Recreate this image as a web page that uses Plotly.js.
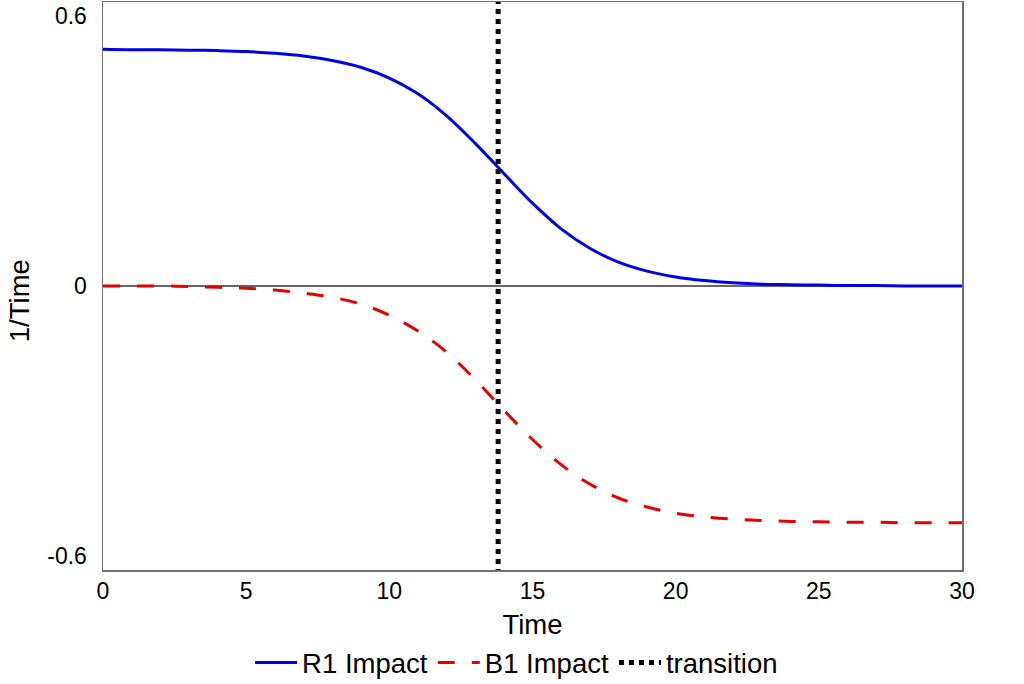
<!DOCTYPE html>
<html>
<head>
<meta charset="utf-8">
<script src="https://cdn.plot.ly/plotly-3.0.1.min.js"></script>
<style>
  html, body { margin: 0; padding: 0; background: #fff; }
  #chart { width: 1024px; height: 684px; }
</style>
</head>
<body>
<div id="chart"></div>
<script>
// Time axis (shared by both series)
const time = [0,1,2,3,4,5,6,7,8,9,10,11,12,13,14,15,16,17,18,19,20,21,22,23,24,25,26,27,28,29,30];

// R1 Impact (1/Time)
const r1Impact = [0.526,0.525,0.525,0.524,0.523,0.521,0.517,0.511,0.501,0.486,0.462,0.427,0.378,0.317,0.250,0.184,0.127,0.084,0.053,0.033,0.020,0.012,0.007,0.004,0.003,0.002,0.001,0.001,0.000,0.000,0.000];

// B1 Impact (1/Time)
const b1Impact = [0.000,0.000,0.000,-0.001,-0.003,-0.005,-0.009,-0.016,-0.025,-0.040,-0.065,-0.100,-0.147,-0.208,-0.276,-0.341,-0.397,-0.440,-0.471,-0.491,-0.505,-0.513,-0.518,-0.521,-0.523,-0.524,-0.525,-0.525,-0.526,-0.526,-0.526];

// Transition marker
const transitionX = [13.8, 13.8];
const transitionY = [-0.64, 0.64];

// Tick labels
const xTicks = [0,5,10,15,20,25,30];
const yTickVals = [-0.6, 0, 0.6];
const yTickText = ['-0.6', '0', '0.6'];
const yTitle = '1/Time';

const FONT = 'Liberation Sans, Arial, Helvetica, sans-serif';

const traces = [
  {
    x: time, y: r1Impact, name: 'R1 Impact', type: 'scatter', mode: 'lines',
    line: { color: '#0000e6', width: 3, shape: 'spline', smoothing: 1 }
  },
  {
    x: time, y: b1Impact, name: 'B1 Impact', type: 'scatter', mode: 'lines',
    line: { color: '#e60000', width: 3, dash: '17px,17px', shape: 'spline', smoothing: 1 }
  },
  {
    x: transitionX, y: transitionY, name: 'transition', type: 'scatter', mode: 'lines',
    line: { color: '#000000', width: 5, dash: '5px,5px' }
  }
];

const layout = {
  width: 1024, height: 684,
  autosize: false,
  margin: { l: 103, r: 62, t: 2, b: 114, autoexpand: false },
  paper_bgcolor: '#ffffff', plot_bgcolor: '#ffffff',
  font: { family: FONT, size: 23, color: '#000' },
  showlegend: true,
  legend: {
    orientation: 'h', x: 0.4815, xanchor: 'center',
    y: -0.12, yanchor: 'top',
    itemwidth: 42,
    font: { family: FONT, size: 27.5, color: '#000' },
    bgcolor: 'rgba(0,0,0,0)'
  },
  xaxis: {
    range: [0, 30], tickvals: xTicks, ticks: '', showgrid: false, zeroline: false,
    showline: true, mirror: true, linecolor: '#707070', linewidth: 1.5,
    tickfont: { family: FONT, size: 23, color: '#000' },
    automargin: false,
    title: { text: 'Time', font: { family: FONT, size: 27.5, color: '#000' }, standoff: 11 }
  },
  yaxis: {
    range: [-0.631, 0.631], tickvals: yTickVals, ticktext: yTickText, ticks: '',
    showgrid: false, zeroline: true, zerolinecolor: '#666', zerolinewidth: 1.5,
    showline: true, mirror: true, linecolor: '#707070', linewidth: 1.5,
    tickfont: { family: FONT, size: 23, color: '#000' },
    ticklabelstandoff: 10,
    automargin: false
  },
  annotations: [{
    text: yTitle, textangle: -90, showarrow: false,
    xref: 'paper', yref: 'paper', x: -0.0978, y: 0.475,
    xanchor: 'center', yanchor: 'middle',
    font: { family: FONT, size: 27.5, color: '#000' }
  }]
};

Plotly.newPlot('chart', traces, layout, { displayModeBar: false, staticPlot: true });
</script>
</body>
</html>
